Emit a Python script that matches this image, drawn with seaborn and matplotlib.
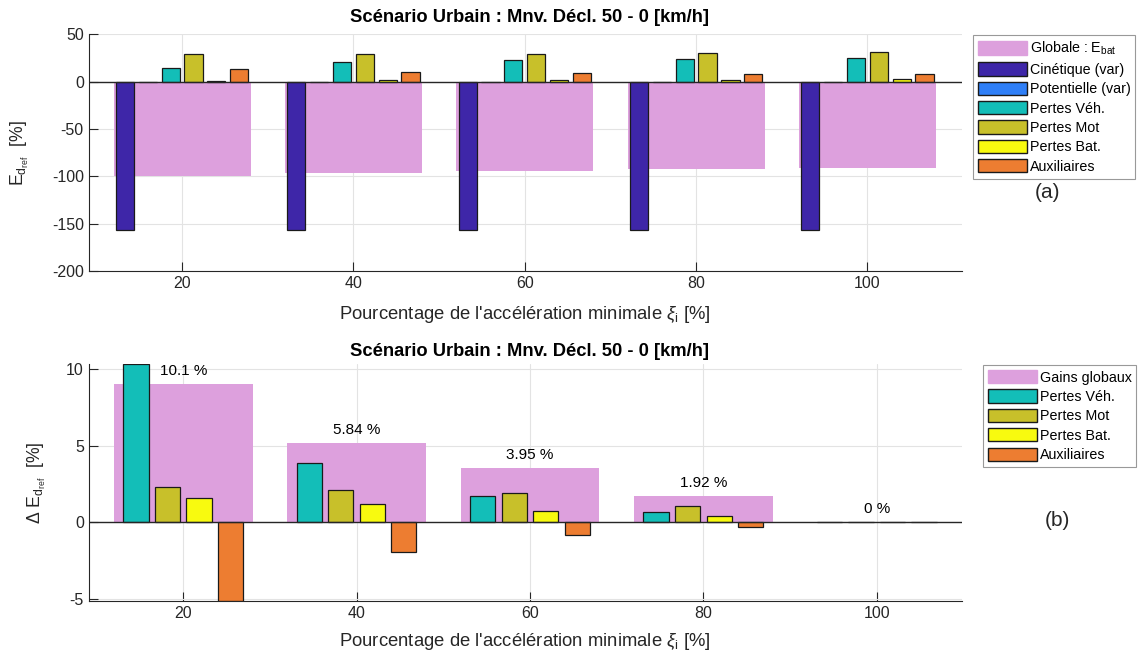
import pandas as pd
import seaborn as sns
import matplotlib.pyplot as plt
from matplotlib.patches import Patch

groups = [20, 40, 60, 80, 100]

# haut : bilan energetique relatif (%)
globale = [-100.0, -96.5, -94.7, -92.6, -90.8]
cinetique = [-156.5, -156.5, -156.5, -156.5, -156.5]
potentielle = [0.0, 0.0, 0.0, 0.0, 0.0]
pertes_veh = [14.1, 20.8, 23.3, 24.0, 24.7]
pertes_mot = [28.9, 29.0, 29.1, 30.0, 31.1]
pertes_bat = [0.3, 1.4, 1.4, 1.8, 2.5]
auxiliaires = [13.1, 9.9, 8.8, 8.5, 8.1]

# bas : gains par rapport a la reference (%)
gains = [9.02, 5.17, 3.52, 1.72, 0.0]
d_veh = [10.33, 3.87, 1.74, 0.65, 0.0]
d_mot = [2.30, 2.13, 1.93, 1.07, 0.0]
d_bat = [1.59, 1.17, 0.76, 0.39, 0.0]
d_aux = [-5.13, -1.93, -0.85, -0.33, 0.0]
gain_labels = ["10.1 %", "5.84 %", "3.95 %", "1.92 %", "0 %"]

top_names = ["Cinétique (var)", "Potentielle (var)", "Pertes Véh.", "Pertes Mot", "Pertes Bat.", "Auxiliaires"]
bot_names = ["Pertes Véh.", "Pertes Mot", "Pertes Bat.", "Auxiliaires"]
colors = {"Cinétique (var)": "#3E26A8", "Potentielle (var)": "#2F7FF7", "Pertes Véh.": "#13BEB8",
          "Pertes Mot": "#C8C02A", "Pertes Bat.": "#F8FA0F", "Auxiliaires": "#ED7D31"}
pink = "#DDA0DD"
edge = "#1a1a1a"
txt = "#262626"

sns.set_style("white")
plt.rcParams['font.family'] = ['Liberation Sans', 'DejaVu Sans']
plt.rcParams['mathtext.fontset'] = 'custom'
plt.rcParams['mathtext.rm'] = 'Liberation Sans'
plt.rcParams['mathtext.it'] = 'Liberation Sans:italic'
plt.rcParams['axes.unicode_minus'] = False

top_df = pd.DataFrame({"x": groups, top_names[0]: cinetique, top_names[1]: potentielle,
                       top_names[2]: pertes_veh, top_names[3]: pertes_mot,
                       top_names[4]: pertes_bat, top_names[5]: auxiliaires})
top_long = top_df.melt(id_vars="x", var_name="serie", value_name="val")
bot_df = pd.DataFrame({"x": groups, bot_names[0]: d_veh, bot_names[1]: d_mot,
                       bot_names[2]: d_bat, bot_names[3]: d_aux})
bot_long = bot_df.melt(id_vars="x", var_name="serie", value_name="val")

fig = plt.figure(figsize=(11.39, 6.54), dpi=100)
W, H = 1139, 654
ax1 = fig.add_axes([88.7 / W, 1 - 271.3 / H, 873 / W, 237 / H])
ax2 = fig.add_axes([88.7 / W, 1 - 601 / H, 873 / W, 237 / H])

title = "Scénario Urbain : Mnv. Décl. 50 - 0 [km/h]"
xlab = r"Pourcentage de l'accélération minimale $\xi_{\mathrm{i}}$ [%]"

# panneau (a)
sns.barplot(x=groups, y=globale, native_scale=True, width=0.8, color=pink, saturation=1,
            linewidth=0, errorbar=None, orient="x", ax=ax1, zorder=1)
sns.barplot(data=top_long, x="x", y="val", hue="serie", hue_order=top_names, palette=colors,
            native_scale=True, width=0.8, gap=0.2, saturation=1, edgecolor=edge, linewidth=0.9,
            errorbar=None, legend=False, orient="x", ax=ax1, zorder=2)
ax1.set_ylim(-200, 50)
ax1.set_yticks([50, 0, -50, -100, -150, -200])
ax1.set_xlim(9.1, 111)
ax1.set_ylabel(r"E$_{\mathrm{d}_{\mathrm{ref}}}$  [%]", fontsize=12.7, color=txt)
ax1.yaxis.set_label_coords(-0.066, 0.5)
ax1.set_title(title, fontweight="bold", fontsize=13.2, pad=8.5, color="black", x=0.505)
ax1.set_xlabel(xlab, fontsize=13.3, color=txt, labelpad=9.5)

# panneau (b)
sns.barplot(x=groups, y=gains, native_scale=True, width=0.8, color=pink, saturation=1,
            linewidth=0, errorbar=None, orient="x", ax=ax2, zorder=1)
sns.barplot(data=bot_long, x="x", y="val", hue="serie", hue_order=bot_names, palette=colors,
            native_scale=True, width=4 / 5.5, gap=0.2, saturation=1, edgecolor=edge, linewidth=0.9,
            errorbar=None, legend=False, orient="x", ax=ax2, zorder=2)
for x, g, lab in zip(groups, gains, gain_labels):
    ax2.text(x, g + 0.4, lab, ha="center", va="bottom", fontsize=11, color="black")
ax2.set_ylim(min(d_aux), max(d_veh))
ax2.set_yticks([-5, 0, 5, 10])
ax2.set_xlim(9.1, 109.8)
ax2.set_ylabel(r"$\Delta$ E$_{\mathrm{d}_{\mathrm{ref}}}$  [%]", fontsize=12.7, color=txt)
ax2.yaxis.set_label_coords(-0.047, 0.5)
ax2.set_title(title, fontweight="bold", fontsize=13.2, pad=5.5, color="black", x=0.505)
ax2.set_xlabel(xlab, fontsize=13.3, color=txt, labelpad=7)

for ax in (ax1, ax2):
    ax.set_xticks(groups)
    ax.axhline(0, color=txt, lw=1, zorder=3)
    ax.grid(True, color="#e3e3e3", lw=0.8)
    ax.set_axisbelow(True)
    for s in ("top", "right"):
        ax.spines[s].set_visible(False)
    for s in ("left", "bottom"):
        ax.spines[s].set_color(txt)
        ax.spines[s].set_linewidth(0.8)
    ax.tick_params(direction="in", length=6.5, width=0.8, color=txt, labelsize=11.5,
                   labelcolor=txt, left=True, bottom=True)

leg_kw = dict(loc="upper left", fontsize=10.3, frameon=True, fancybox=False, edgecolor="#808080",
              handlelength=3.4, handleheight=1.05, labelspacing=0.34, handletextpad=0.2,
              borderpad=0.35, borderaxespad=0)
top_handles = [Patch(facecolor=pink, edgecolor=pink, label=r"Globale : E$_{\mathrm{bat}}$")]
top_handles += [Patch(facecolor=colors[n], edgecolor=edge, label=n) for n in top_names]
leg1 = fig.legend(handles=top_handles, bbox_to_anchor=(973 / W, 1 - 35 / H), **leg_kw)
bot_handles = [Patch(facecolor=pink, edgecolor=pink, label="Gains globaux")]
bot_handles += [Patch(facecolor=colors[n], edgecolor=edge, label=n) for n in bot_names]
leg2 = fig.legend(handles=bot_handles, bbox_to_anchor=(983 / W, 1 - 365 / H), **leg_kw)
for leg in (leg1, leg2):
    leg.get_frame().set_linewidth(0.8)
    for t in leg.get_texts():
        t.set_color("black")

fig.text(1047 / W, 1 - 193 / H, "(a)", ha="center", va="center", fontsize=15)
fig.text(1057 / W, 1 - 521 / H, "(b)", ha="center", va="center", fontsize=15)

fig.savefig("out.png", dpi=100)
